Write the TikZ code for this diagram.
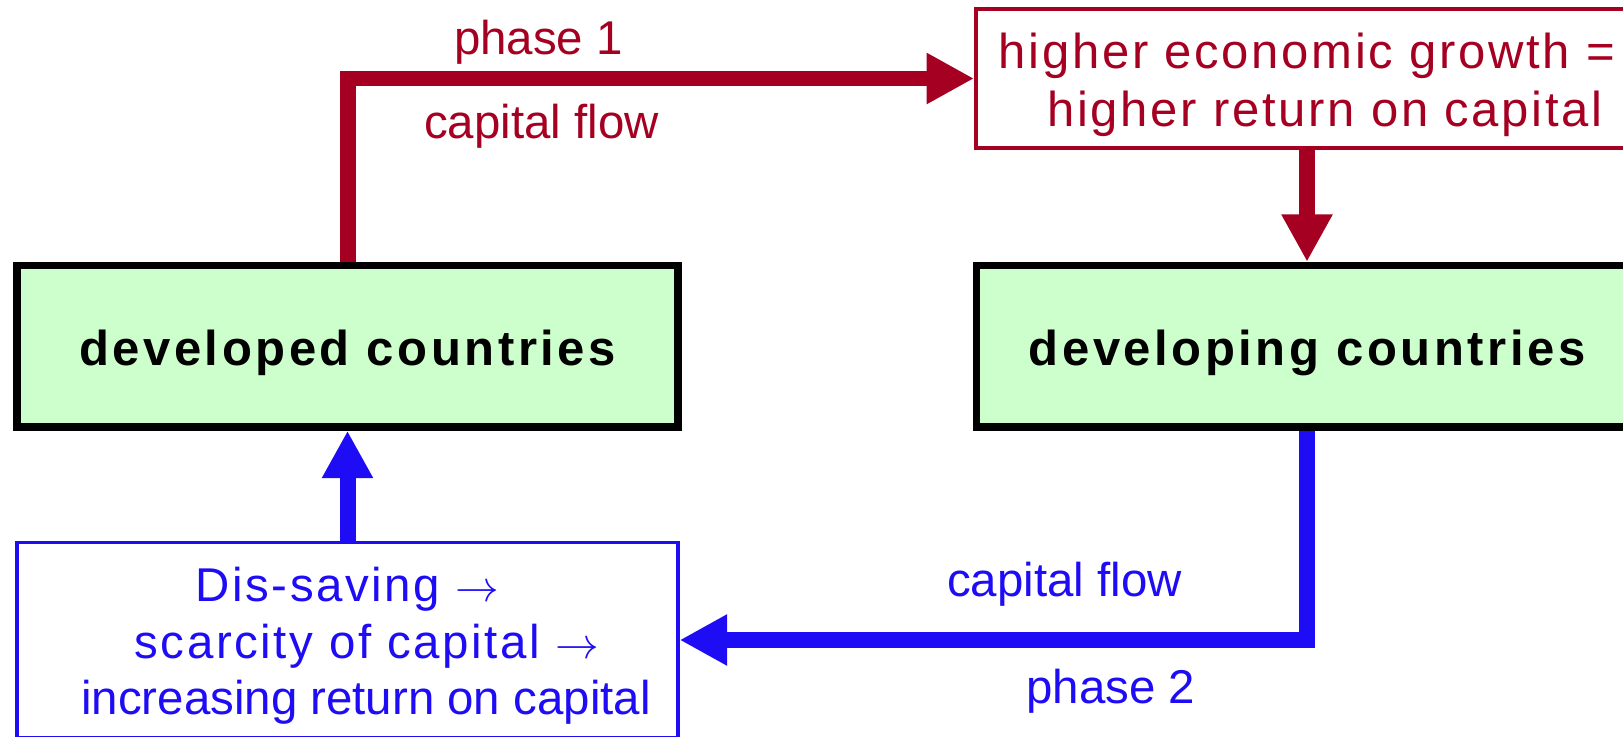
\documentclass[tikz,border=0pt]{standalone}
\usepackage{fontspec}
\setmainfont{Liberation Sans}
\newfontfamily\spacedfont{Liberation Sans}[LetterSpace=5.5]
\newfontfamily\spacedbold{Liberation Sans}[LetterSpace=7.2]
\newcommand\wideline{\spacedfont\fontsize{27}{32.4}\selectfont}
\usetikzlibrary{arrows.meta}

\definecolor{flowred}{RGB}{165,0,33}
\definecolor{flowblue}{RGB}{30,12,245}
\definecolor{boxgreen}{RGB}{204,255,204}

\tikzset{
  country/.style={draw=black, line width=0.15cm, fill=boxgreen,
    minimum width=13.22cm, minimum height=3.23cm, inner sep=0pt,
    font=\spacedbold\bfseries\fontsize{27.9}{33}\selectfont,
    text height=0.95cm, text depth=0.2cm},
  redbox/.style={draw=flowred, line width=0.08cm, text=flowred,
    minimum width=13.24cm, minimum height=2.768cm, inner sep=0pt, align=center,
    font=\spacedfont\fontsize{27.9}{33}\selectfont,
    text height=2.112cm, text depth=0.2cm},
  bluebox/.style={draw=flowblue, line width=0.07cm, text=flowblue,
    minimum width=13.22cm, minimum height=3.908cm, inner sep=0pt, align=center,
    font=\fontsize{27}{32.4}\selectfont,
    text height=3.2cm, text depth=0.2cm},
  redflow/.style={draw=flowred, line width=0.32cm,
    -{Triangle[length=0.95cm, width=0.96cm]}},
  blueflow/.style={draw=flowblue, line width=0.32cm,
    -{Triangle[length=0.95cm, width=0.96cm]}},
  redlabel/.style={text=flowred, anchor=base, font=\fontsize{27}{32.4}\selectfont},
  bluelabel/.style={text=flowblue, anchor=base, font=\fontsize{27}{32.4}\selectfont}
}

\begin{document}
\begin{tikzpicture}[x=0.02cm, y=-0.02cm]
\useasboundingbox (0,0) rectangle (1623,737);
\clip (0,0) rectangle (1623,737);

\node[country] (dev) at (347.5,346.25) {developed countries};
\node[country] (dvl) at (1307,346.25) {developing countries};
\node[redbox] (growth) at (1307,78.5)
  {higher economic growth =\\\hspace*{0.72cm}higher return on capital};
\node[bluebox] (saving) at (347.5,640)
  {{\wideline Dis-saving $\rightarrow$}\\\hspace*{0.78cm}{\wideline scarcity of capital $\rightarrow$}\\\hspace*{0.74cm}increasing return on capital};

%%%%%%%%%%%%%%%%%%%%%%%%%%%%%%%%%%%%%%%%

\draw[redflow] (dev.north) |- (growth.west);
\draw[redflow] (growth.south) -- (dvl.north);
\draw[blueflow] (dvl.south) |- (saving.east);
\draw[blueflow] (saving.north) -- (dev.south);

\node[redlabel] (phaseone) at (538.5,54.3) {phase 1};
\node[redlabel] (flowone) at (541.5,138) {capital flow};
\node[bluelabel] (flowtwo) at (1064.5,596) {capital flow};
\node[bluelabel] (phasetwo) at (1111,703) {phase 2};

\end{tikzpicture}
\end{document}
